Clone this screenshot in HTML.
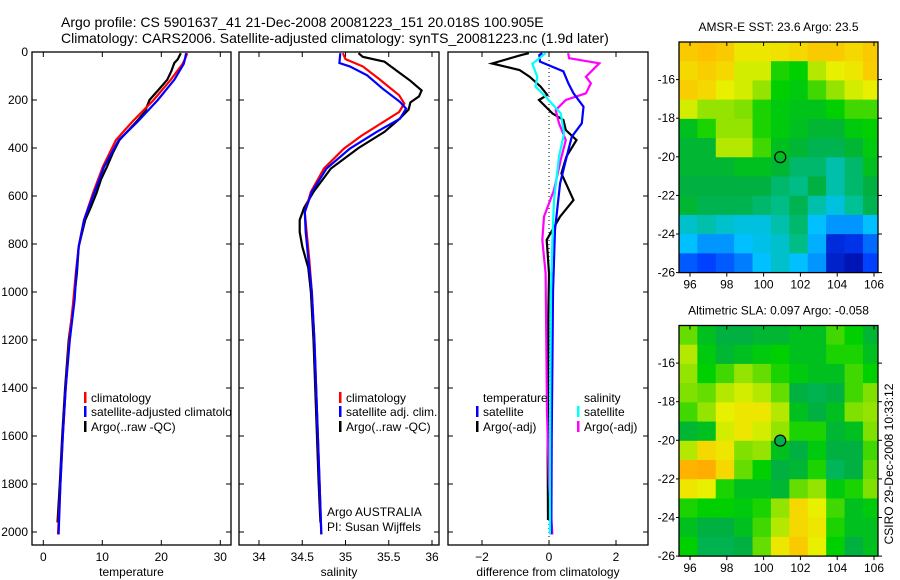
<!DOCTYPE html>
<html><head><meta charset="utf-8">
<style>
html,body{margin:0;padding:0;background:#fff;}
svg{display:block;font-family:"Liberation Sans",sans-serif;}
</style></head>
<body>
<svg id="fig" width="900" height="580" viewBox="0 0 900 580" xmlns="http://www.w3.org/2000/svg">
<text x="61" y="27" font-size="14">Argo profile: CS 5901637_41 21-Dec-2008 20081223_151 20.018S 100.905E</text>
<text x="61" y="43" font-size="14">Climatology: CARS2006. Satellite-adjusted climatology: synTS_20081223.nc (1.9d later)</text>
</svg>
<script>
// ---- profile data (depth in m) ----
const tDepth = [5,30,50,116,200,290,367,478,589,700,811,922,1033,1200,1400,1600,1800,2010];
const tClim  = [24.4,24.0,23.6,21.6,18.7,15.1,12.3,10.1,8.4,6.9,6.0,5.5,5.1,4.4,3.8,3.3,2.9,2.5];
const tSat   = [24.2,24.0,23.8,22.2,19.4,16.0,12.8,10.3,8.6,6.9,6.0,5.6,5.3,4.5,3.8,3.3,2.9,2.6];
const tArgoDepth = [5,20,30,46,80,116,150,200,250,290,367,420,478,530,589,650,700,811,922,1033,1200,1400,1600,1800,1960];
const tArgo  = [23.3,23.0,22.8,22.2,21.7,21.0,19.8,18.0,17.2,15.8,12.9,11.8,10.8,9.8,9.0,8.0,7.1,6.0,5.7,5.2,4.3,3.7,3.2,2.8,2.4];

const sDepth = [5,30,60,116,180,215,250,300,350,403,486,583,667,750,861,1000,1200,1500,1800,2010];
const sClim  = [34.97,35.0,35.2,35.4,35.62,35.68,35.62,35.40,35.18,34.98,34.75,34.60,34.53,34.55,34.58,34.61,34.64,34.67,34.70,34.72];
const sSatDepth = [5,46,60,97,153,208,236,278,333,403,486,583,667,750,861,1000,1200,1500,1800,2010];
const sSat   = [34.94,34.93,35.05,35.25,35.43,35.63,35.70,35.63,35.36,35.05,34.78,34.61,34.53,34.54,34.57,34.61,34.64,34.67,34.70,34.72];
const sArgoDepth = [5,20,40,80,120,160,185,210,240,280,333,400,486,583,650,700,750,811,900,1000,1200,1500,1800,1960];
const sArgo  = [35.15,35.2,35.45,35.6,35.75,35.88,35.85,35.75,35.73,35.62,35.45,35.15,34.83,34.63,34.52,34.47,34.47,34.5,34.57,34.6,34.63,34.66,34.69,34.71];

const dDepthA = [5,13,48,75,103,144,179,200,256,283,325,367,436,506,617,686,783,922,1100,1400,1700,1950];
const dTempArgo = [-0.6,-0.83,-1.7,-0.88,-0.58,-0.25,-0.05,-0.3,0.1,0.43,0.5,0.82,0.52,0.37,0.73,0.33,-0.07,0.0,-0.02,-0.03,-0.04,-0.03];
const dDepthB = [5,13,40,81,131,172,228,297,353,408,547,741,1000,1300,1600,2010];
const dTempSat = [-0.2,-0.29,-0.27,0.43,0.58,0.73,1.03,0.98,0.68,0.58,0.33,0.18,0.12,0.1,0.08,0.07];
const dDepthC = [5,26,47,103,131,172,200,242,297,367,450,575,686,783,922,1200,1500,1800,2010];
const dSalArgo = [0.57,0.6,1.5,1.1,1.25,1.1,0.5,0.2,0.3,0.5,0.35,0.15,-0.15,-0.2,-0.1,-0.08,-0.06,0.0,0.1];
const dDepthD = [5,49,103,144,186,256,339,436,617,783,1000,1400,1800,2010];
const dSalSat = [-0.1,-0.5,-0.35,-0.4,-0.1,0.35,0.45,0.3,0.15,0.1,0.06,0.04,0.03,0.03];

const depthTicks = [0,200,400,600,800,1000,1200,1400,1600,1800,2000];
const tempTicks = [0,10,20,30];
const salTicks = ["34","34.5","35","35.5","36"];
const diffTicks = [-2,0,2];

// ---- map data (values 0..1 on colour scale), rows lat 14->26, cols lon 95.4->106.4 ----
const sstGrid = [
[0.88,0.9,0.88,0.82,0.82,0.83,0.85,0.88,0.88,0.85,0.88],
[0.85,0.87,0.85,0.78,0.78,0.62,0.6,0.75,0.8,0.82,0.87],
[0.87,0.85,0.8,0.78,0.72,0.6,0.58,0.65,0.72,0.78,0.8],
[0.78,0.72,0.72,0.7,0.62,0.58,0.56,0.56,0.6,0.65,0.65],
[0.55,0.62,0.72,0.72,0.62,0.58,0.55,0.52,0.52,0.58,0.6],
[0.52,0.52,0.75,0.75,0.65,0.55,0.52,0.48,0.48,0.52,0.58],
[0.52,0.52,0.52,0.55,0.55,0.52,0.45,0.45,0.38,0.45,0.55],
[0.5,0.5,0.5,0.5,0.5,0.45,0.42,0.5,0.38,0.45,0.5],
[0.52,0.48,0.48,0.48,0.45,0.42,0.48,0.38,0.33,0.4,0.48],
[0.35,0.38,0.35,0.33,0.33,0.38,0.45,0.3,0.25,0.25,0.3],
[0.3,0.25,0.25,0.3,0.32,0.35,0.42,0.28,0.1,0.12,0.2],
[0.18,0.15,0.18,0.22,0.3,0.35,0.3,0.25,0.08,0.05,0.15]];
const slaGrid = [
[0.68,0.55,0.5,0.5,0.52,0.52,0.55,0.55,0.65,0.6,0.52],
[0.75,0.58,0.52,0.55,0.58,0.6,0.55,0.55,0.62,0.62,0.55],
[0.72,0.6,0.65,0.72,0.68,0.62,0.58,0.55,0.55,0.65,0.6],
[0.7,0.68,0.75,0.78,0.75,0.68,0.5,0.48,0.5,0.65,0.7],
[0.65,0.72,0.8,0.82,0.82,0.75,0.55,0.5,0.55,0.7,0.72],
[0.52,0.55,0.78,0.82,0.78,0.72,0.62,0.62,0.52,0.55,0.7],
[0.75,0.85,0.82,0.7,0.72,0.55,0.5,0.58,0.5,0.5,0.65],
[0.92,0.93,0.85,0.68,0.6,0.5,0.52,0.62,0.47,0.5,0.68],
[0.82,0.8,0.62,0.55,0.55,0.52,0.68,0.72,0.58,0.62,0.7],
[0.62,0.6,0.6,0.58,0.62,0.72,0.85,0.8,0.65,0.55,0.58],
[0.55,0.5,0.5,0.55,0.65,0.75,0.85,0.82,0.62,0.55,0.55],
[0.6,0.48,0.48,0.5,0.68,0.82,0.88,0.8,0.6,0.5,0.55]];
const lonTicks = [96,98,100,102,104,106];
const latTicks = [16,18,20,22,24,26];
const argoPos = [100.905, 20.018];

const NS = "http://www.w3.org/2000/svg";
const svg = document.getElementById('fig');
function mk(tag, attrs, parent){
  const e = document.createElementNS(NS, tag);
  for (const k in attrs) e.setAttribute(k, attrs[k]);
  (parent||svg).appendChild(e);
  return e;
}
const yD = d => 52 + d*0.24;
const PT = 52, PB = 545;
const panels = [
  {x0:32, x1:231, fx:v=>43.3+v*5.9, name:'temperature'},
  {x0:239, x1:439, fx:v=>259+(v-34)*86.5, name:'salinity'},
  {x0:448, x1:648, fx:v=>549+v*33.5, name:'difference'}
];
panels.forEach((p,i)=>{
  const cp = mk('clipPath',{id:'clip'+i});
  mk('rect',{x:p.x0,y:PT,width:p.x1-p.x0,height:PB-PT},cp);
});
function line(xs, ds, f, color, clip, name){
  const pts = xs.map((v,i)=>f(v).toFixed(1)+','+yD(ds[i]).toFixed(1)).join(' ');
  const e = mk('polyline',{points:pts,fill:'none',stroke:color,'stroke-width':2.2,'clip-path':'url(#'+clip+')'});
  
  
}
function frame(p, idx, ticks, tickVals, label){
  const g = mk('g',{});
  
  
  mk('rect',{x:p.x0,y:PT,width:p.x1-p.x0,height:PB-PT,fill:'none',stroke:'#000','stroke-width':1.3},g);
  depthTicks.forEach(d=>{
    mk('line',{x1:p.x0,x2:p.x0+5,y1:yD(d),y2:yD(d),stroke:'#000'},g);
    mk('line',{x1:p.x1-5,x2:p.x1,y1:yD(d),y2:yD(d),stroke:'#000'},g);
  });
  ticks.forEach((t,i)=>{
    const x = p.fx(tickVals[i]);
    mk('line',{x1:x,x2:x,y1:PT,y2:PT+5,stroke:'#000'},g);
    mk('line',{x1:x,x2:x,y1:PB-5,y2:PB,stroke:'#000'},g);
    const t1 = mk('text',{x:x,y:561,'font-size':12,'text-anchor':'middle'},g);
    t1.textContent = String(t).replace('-','\u2212');
    
    
  });
  const xl = mk('text',{x:(p.x0+p.x1)/2,y:576,'font-size':12,'text-anchor':'middle'},g);
  xl.textContent = label;
  
  
}
frame(panels[0],0,tempTicks,tempTicks,'temperature');
frame(panels[1],1,salTicks,salTicks.map(Number),'salinity');
frame(panels[2],2,diffTicks,diffTicks,'difference from climatology');
depthTicks.forEach(d=>{
  const t = mk('text',{x:28,y:yD(d)+4,'font-size':12,'text-anchor':'end'});
  t.textContent = d;
  
  
});
const zl = mk('line',{x1:panels[2].fx(0),x2:panels[2].fx(0),y1:PT,y2:PB,stroke:'#000','stroke-dasharray':'1,3'});



line(tArgo,tArgoDepth,panels[0].fx,'#000','clip0','temp-argo-line');
line(tClim,tDepth,panels[0].fx,'#ff0000','clip0','temp-climatology-line');
line(tSat,tDepth,panels[0].fx,'#0000ff','clip0','temp-satellite-line');
line(sArgo,sArgoDepth,panels[1].fx,'#000','clip1','salinity-argo-line');
line(sClim,sDepth,panels[1].fx,'#ff0000','clip1','salinity-climatology-line');
line(sSat,sSatDepth,panels[1].fx,'#0000ff','clip1','salinity-satellite-line');
line(dTempArgo,dDepthA,panels[2].fx,'#000','clip2','diff-temp-argo-line');
line(dSalArgo,dDepthC,panels[2].fx,'#ff00ff','clip2','diff-salinity-argo-line');
line(dTempSat,dDepthB,panels[2].fx,'#0000ff','clip2','diff-temp-satellite-line');
line(dSalSat,dDepthD,panels[2].fx,'#00ffff','clip2','diff-salinity-satellite-line');

function legEntry(x,y,color,label,clip,name){
  const g = mk('g',{'clip-path': clip?'url(#'+clip+')':''});
  
  
  if (color) mk('rect',{x:x,y:y-10,width:2.5,height:11,fill:color},g);
  const t = mk('text',{x:x+7,y:y,'font-size':12},g);
  t.textContent = label;
}
legEntry(84,402,'#ff0000','climatology','clip0','legend-climatology');
legEntry(84,416,'#0000ff','satellite-adjusted climatology','clip0','legend-satellite-adjusted');
legEntry(84,431,'#000','Argo(..raw -QC)','clip0','legend-argo');
legEntry(339,402,'#ff0000','climatology','clip1','legend-sal-climatology');
legEntry(339,416,'#0000ff','satellite adj. clim.','clip1','legend-sal-satellite');
legEntry(339,431,'#000','Argo(..raw -QC)','clip1','legend-sal-argo');
legEntry(476,402,null,'temperature','clip2','legend-temperature-header');
legEntry(476,416,'#0000ff','satellite','clip2','legend-diff-temp-satellite');
legEntry(476,431,'#000','Argo(-adj)','clip2','legend-diff-temp-argo');
legEntry(577,402,null,'salinity','clip2','legend-salinity-header');
legEntry(577,416,'#00ffff','satellite','clip2','legend-diff-sal-satellite');
legEntry(577,431,'#ff00ff','Argo(-adj)','clip2','legend-diff-sal-argo');
const a1 = mk('text',{x:327,y:516,'font-size':12}); a1.textContent='Argo AUSTRALIA';


const a2 = mk('text',{x:327,y:531,'font-size':12}); a2.textContent='PI: Susan Wijffels';



const sstStops = [[0,[0,0,144]],[0.15,[0,64,255]],[0.3,[0,192,255]],[0.4,[0,192,150]],[0.5,[0,176,64]],[0.6,[0,208,0]],[0.7,[128,224,0]],[0.8,[232,240,0]],[0.9,[255,192,0]],[1,[255,128,0]]];
function cmap(v){
  for (let i=1;i<sstStops.length;i++){
    if (v<=sstStops[i][0]){
      const [a,ca]=sstStops[i-1],[b,cb]=sstStops[i];
      const t=(v-a)/(b-a);
      return 'rgb('+ca.map((c,k)=>Math.round(c+(cb[k]-c)*t)).join(',')+')';
    }
  }
  return 'rgb(255,128,0)';
}
const MX0=679, MX1=878;
const mxLon = lon => 690 + (lon-96)*18.4;
function drawMap(grid, top, title, name, filled){
  const my = lat => top + 114.8 + (lat-20)*19.3;
  const g = mk('g',{});
  
  
  const cp = mk('clipPath',{id:'clip-'+name},g);
  mk('rect',{x:MX0,y:top,width:MX1-MX0,height:my(26)-top},cp);
  const cells = mk('g',{'clip-path':'url(#clip-'+name+')'},g);
  grid.forEach((row,r)=>{
    row.forEach((v,c)=>{
      const la0 = 14.05 + r*(11.95/12), la1 = la0 + 11.95/12;
      const lo0 = 95.4 + c, lo1 = lo0+1;
      const cell = mk('rect',{x:mxLon(lo0),y:my(la0),width:mxLon(lo1)-mxLon(lo0)+0.6,height:my(la1)-my(la0)+0.6,fill:cmap(v)},cells);
      
      
    });
  });
  mk('rect',{x:MX0,y:top,width:MX1-MX0,height:my(26)-top,fill:'none',stroke:'#000','stroke-width':1.3},g);
  lonTicks.forEach(l=>{
    const x=mxLon(l);
    mk('line',{x1:x,x2:x,y1:top,y2:top+4,stroke:'#000'},g);
    mk('line',{x1:x,x2:x,y1:my(26),y2:my(26)+4,stroke:'#000'},g);
    const t=mk('text',{x:x,y:my(26)+16,'font-size':12,'text-anchor':'middle'},g);
    t.textContent=l;
    
    
  });
  latTicks.forEach(l=>{
    const y=my(l);
    mk('line',{x1:MX0-3,x2:MX0,y1:y,y2:y,stroke:'#000'},g);
    mk('line',{x1:MX1,x2:MX1+4,y1:y,y2:y,stroke:'#000'},g);
    const t=mk('text',{x:MX0-4,y:y+4,'font-size':12,'text-anchor':'end'},g);
    t.textContent='-'+l;
    
    
  });
  const c = mk('circle',{cx:mxLon(argoPos[0]),cy:my(argoPos[1]),r:5.5,fill:filled?'#00b050':'none',stroke:'#000','stroke-width':1.2},g);
  
  
  const tt=mk('text',{x:(MX0+MX1)/2,y:top-11,'font-size':12,'text-anchor':'middle'},g);
  tt.textContent=title;
  
  
}
drawMap(sstGrid,42,'AMSR-E SST: 23.6 Argo: 23.5','sst-map',false);
drawMap(slaGrid,325.5,'Altimetric SLA: 0.097 Argo: -0.058','sla-map',true);
const cs = mk('text',{x:0,y:0,'font-size':12,'text-anchor':'middle',transform:'translate(893,464) rotate(-90)'});
cs.textContent='CSIRO 29-Dec-2008 10:33:12';


</script>
</body></html>
